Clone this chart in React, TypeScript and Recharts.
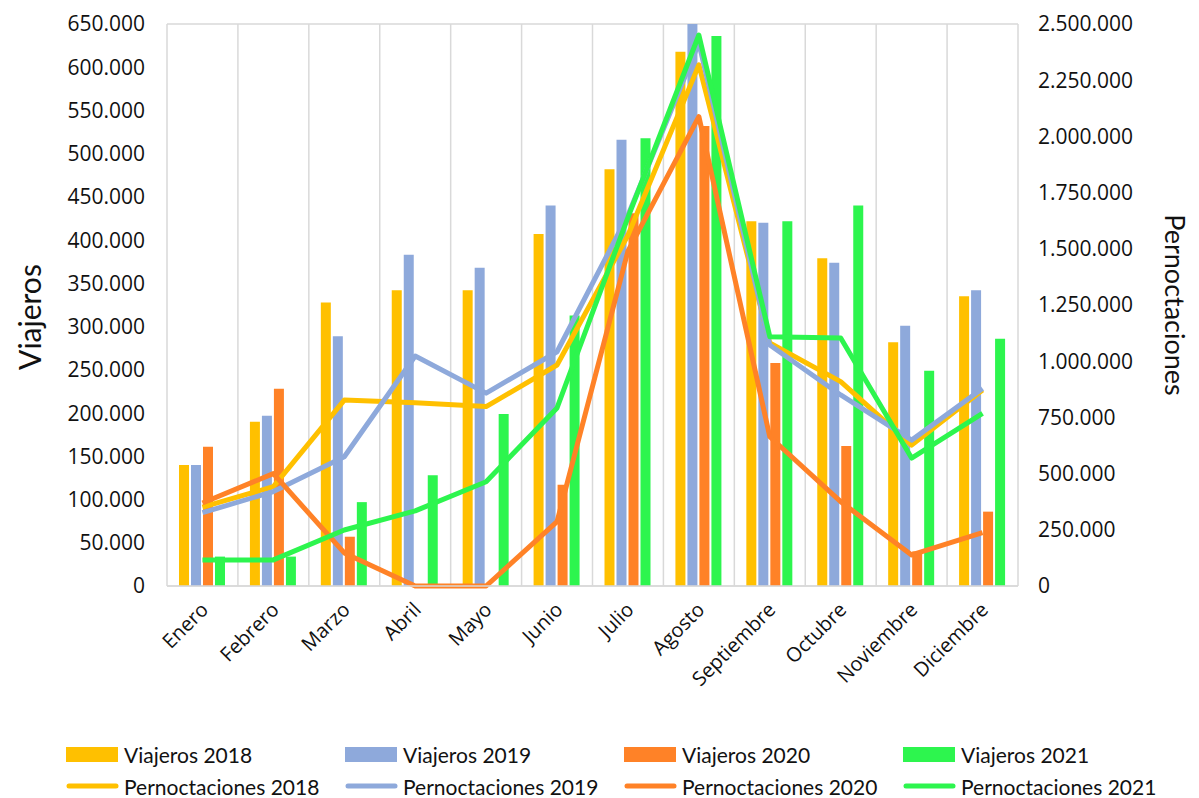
import React from 'react';
import { ComposedChart, Bar, Line, XAxis, YAxis, CartesianGrid, Legend } from 'recharts';

const months = ['Enero', 'Febrero', 'Marzo', 'Abril', 'Mayo', 'Junio', 'Julio', 'Agosto', 'Septiembre', 'Octubre', 'Noviembre', 'Diciembre'];

const viajeros2018 = [140000, 190000, 328000, 342000, 342000, 407000, 482000, 618000, 422000, 379000, 282000, 335000];
const viajeros2019 = [140000, 197000, 289000, 383000, 368000, 440000, 516000, 660000, 420000, 374000, 301000, 342000];
const viajeros2020 = [161000, 228000, 57000, 0, 0, 117000, 431000, 532000, 258000, 162000, 40000, 86000];
const viajeros2021 = [34000, 34000, 97000, 128000, 199000, 313000, 518000, 636000, 422000, 440000, 249000, 286000];

const pern2018 = [351000, 442000, 827000, 815000, 798000, 983000, 1560000, 2318000, 1081000, 909000, 627000, 872000];
const pern2019 = [326000, 420000, 575000, 1023000, 858000, 1042000, 1650000, 2415000, 1072000, 850000, 649000, 879000];
const pern2020 = [369000, 500000, 147000, 0, 0, 286000, 1490000, 2088000, 664000, 375000, 138000, 237000];
const pern2021 = [116000, 116000, 249000, 334000, 464000, 792000, 1640000, 2451000, 1109000, 1103000, 569000, 768000];

const leftTicks = [0, 50000, 100000, 150000, 200000, 250000, 300000, 350000, 400000, 450000, 500000, 550000, 600000, 650000];
const rightTicks = [0, 250000, 500000, 750000, 1000000, 1250000, 1500000, 1750000, 2000000, 2250000, 2500000];
const boundaryTicks = [0, 1, 2, 3, 4, 5, 6, 7, 8, 9, 10, 11, 12];

const C2018 = '#FFC000';
const C2019 = '#8EA9DB';
const C2020 = '#FF8227';
const C2021 = '#2DF54E';

const data = months.map((m, i) => ({
  month: m,
  v2018: viajeros2018[i],
  v2019: viajeros2019[i],
  v2020: viajeros2020[i],
  v2021: viajeros2021[i],
  p2018: pern2018[i],
  p2019: pern2019[i],
  p2020: pern2020[i],
  p2021: pern2021[i],
}));

const fmt = (v: number) => v.toLocaleString('de-DE');

const FONT = "'Open Sans', sans-serif";
const LFONT = "Lato, sans-serif";

const XTick = (props: any) => {
  const { x, y, payload } = props;
  const tx = x + 7;
  const ty = y + 17;
  return (
    <text
      x={tx}
      y={ty}
      transform={`rotate(-45 ${tx} ${ty})`}
      textAnchor="end"
      fontFamily={FONT}
      fontSize={20}
      fill="#111"
    >
      {payload.value}
    </text>
  );
};

const legendItems = [
  { label: 'Viajeros 2018', color: C2018, type: 'bar' },
  { label: 'Viajeros 2019', color: C2019, type: 'bar' },
  { label: 'Viajeros 2020', color: C2020, type: 'bar' },
  { label: 'Viajeros 2021', color: C2021, type: 'bar' },
  { label: 'Pernoctaciones 2018', color: C2018, type: 'line' },
  { label: 'Pernoctaciones 2019', color: C2019, type: 'line' },
  { label: 'Pernoctaciones 2020', color: C2020, type: 'line' },
  { label: 'Pernoctaciones 2021', color: C2021, type: 'line' },
];

const renderLegend = () => (
  <div style={{ position: 'relative', width: 1183, height: 70 }}>
    {legendItems.map((it, i) => {
      const col = i % 4;
      const row = Math.floor(i / 4);
      const left = 58 + col * 279;
      const top = 12 + row * 32;
      return (
        <div
          key={it.label}
          style={{
            position: 'absolute',
            left,
            top,
            height: 28,
            display: 'flex',
            alignItems: 'center',
            fontFamily: LFONT,
            fontSize: 21,
            color: '#111',
            whiteSpace: 'nowrap',
          }}
        >
          <svg width={56} height={28} style={{ marginRight: 2 }}>
            {it.type === 'bar' ? (
              <rect x={0} y={7} width={52} height={15} fill={it.color} />
            ) : (
              <line x1={3} y1={14} x2={50} y2={14} stroke={it.color} strokeWidth={5} strokeLinecap="round" />
            )}
          </svg>
          <span>{it.label}</span>
        </div>
      );
    })}
  </div>
);

const vGen = (props: any) => {
  const off = props.offset;
  return Array.from({ length: 13 }, (_, i) => off.left + (i * off.width) / 12);
};

export default function App() {
  return (
    <div style={{ width: 1183, height: 790 }}>
      <ComposedChart
        width={1183}
        height={790}
        data={data}
        margin={{ top: 16, right: 0, bottom: 0, left: 0 }}
        barGap={2}
        barSize={10}
      >
        <CartesianGrid stroke="#d9d9d9" strokeWidth={1.5} verticalCoordinatesGenerator={vGen} />
        <XAxis
          xAxisId="bounds"
          type="number"
          domain={[0, 12]}
          ticks={boundaryTicks}
          height={0}
          axisLine={false}
          tickSize={8}
          tickLine={{ stroke: '#d9d9d9', strokeWidth: 1.5 }}
          tick={() => <g />}
        />
        <XAxis
          dataKey="month"
          height={142}
          interval={0}
          tick={<XTick />}
          tickLine={false}
          axisLine={{ stroke: '#d9d9d9', strokeWidth: 1.5 }}
        />
        <YAxis
          yAxisId="left"
          width={159}
          domain={[0, 650000]}
          ticks={leftTicks}
          allowDataOverflow
          tickFormatter={fmt}
          tickLine={false}
          axisLine={false}
          tickSize={0}
          tickMargin={22}
          tick={{ fontFamily: FONT, fontSize: 21, fill: '#111' }}
          label={{
            content: (p: any) => {
              const vb = p.viewBox;
              const cx = vb.x + 21;
              const cy = vb.y + vb.height / 2 + 12;
              return (
                <text x={cx} y={cy} transform={`rotate(-90 ${cx} ${cy})`} textAnchor="middle" dominantBaseline="central" fontFamily={LFONT} fontSize={30} fill="#111">
                  Viajeros
                </text>
              );
            },
          }}
        />
        <YAxis
          yAxisId="right"
          orientation="right"
          width={173}
          domain={[0, 2500000]}
          ticks={rightTicks}
          tickFormatter={fmt}
          tickLine={false}
          axisLine={false}
          tickSize={0}
          tickMargin={20}
          tick={{ fontFamily: FONT, fontSize: 21, fill: '#111' }}
          label={{
            content: (p: any) => {
              const vb = p.viewBox;
              const cx = vb.x + vb.width - 16;
              const cy = vb.y + vb.height / 2;
              return (
                <text x={cx} y={cy} transform={`rotate(90 ${cx} ${cy})`} textAnchor="middle" dominantBaseline="central" fontFamily={LFONT} fontSize={27} fill="#111">
                  Pernoctaciones
                </text>
              );
            },
          }}
        />
        <Legend verticalAlign="bottom" height={70} content={renderLegend} />
        <Bar yAxisId="left" dataKey="v2018" name="Viajeros 2018" fill={C2018} isAnimationActive={false} />
        <Bar yAxisId="left" dataKey="v2019" name="Viajeros 2019" fill={C2019} isAnimationActive={false} />
        <Bar yAxisId="left" dataKey="v2020" name="Viajeros 2020" fill={C2020} isAnimationActive={false} />
        <Bar yAxisId="left" dataKey="v2021" name="Viajeros 2021" fill={C2021} isAnimationActive={false} />
        <Line yAxisId="right" dataKey="p2018" name="Pernoctaciones 2018" stroke={C2018} strokeWidth={5} dot={false} strokeLinejoin="round" isAnimationActive={false} />
        <Line yAxisId="right" dataKey="p2019" name="Pernoctaciones 2019" stroke={C2019} strokeWidth={5} dot={false} strokeLinejoin="round" isAnimationActive={false} />
        <Line yAxisId="right" dataKey="p2020" name="Pernoctaciones 2020" stroke={C2020} strokeWidth={5} dot={false} strokeLinejoin="round" isAnimationActive={false} />
        <Line yAxisId="right" dataKey="p2021" name="Pernoctaciones 2021" stroke={C2021} strokeWidth={5} dot={false} strokeLinejoin="round" isAnimationActive={false} />
      </ComposedChart>
    </div>
  );
}
